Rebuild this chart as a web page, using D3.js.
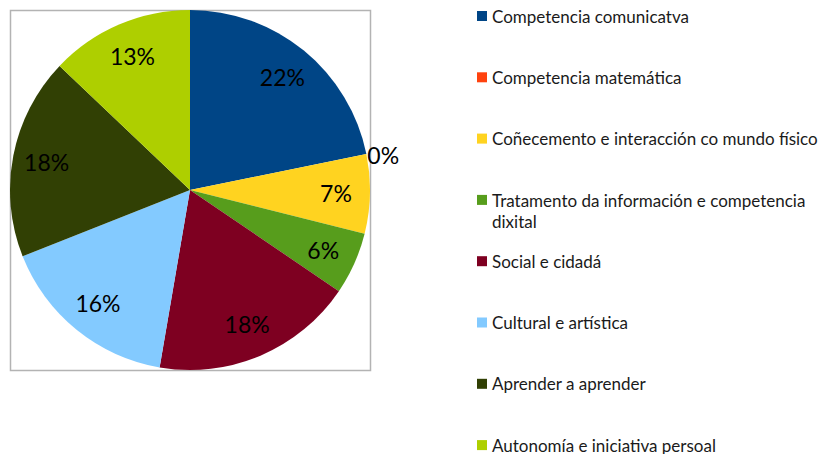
<!DOCTYPE html>
<html>
<head>
<meta charset="utf-8">
<script src="https://cdn.jsdelivr.net/npm/d3@7"></script>
<style>
  body { margin: 0; background: #fff; }
  svg { font-family: Lato, "Open Sans", sans-serif; }
</style>
</head>
<body>
<svg width="825" height="454"></svg>
<script>
// Competence shares (percent of total)
const categories = [
  "Competencia comunicatva",
  "Competencia matemática",
  "Coñecemento e interacción co mundo físico",
  "Tratamento da información e competencia dixital",
  "Social e cidadá",
  "Cultural e artística",
  "Aprender a aprender",
  "Autonomía e iniciativa persoal"
];
const values = [21.8, 0, 7.1, 5.6, 18.2, 16.3, 18.1, 12.9];
const colors = ["#004586", "#ff420e", "#ffd320", "#579d1c", "#7e0021", "#83caff", "#314004", "#aecf00"];

const svg = d3.select("svg");
const cx = 190, cy = 190, radius = 180;

// Plot area frame
svg.append("rect")
  .attr("x", 10.5)
  .attr("y", 10.5)
  .attr("width", 360)
  .attr("height", 360)
  .attr("fill", "none")
  .attr("stroke", "#b3b3b3")
  .attr("stroke-width", 1.5);

const data = categories.map((c, i) => ({ name: c, value: values[i], color: colors[i] }));
const total = d3.sum(values);

const pie = d3.pie().sort(null).value((d) => d.value);
const arcs = pie(data);
const arc = d3.arc().innerRadius(0).outerRadius(radius);
const labelArc = d3.arc().innerRadius(146).outerRadius(146);

const g = svg.append("g").attr("transform", `translate(${cx},${cy})`);

g.selectAll("path")
  .data(arcs)
  .enter()
  .append("path")
  .attr("d", arc)
  .attr("fill", (d) => d.data.color);

// Percent labels (zero slice goes outside)
g.selectAll("text.pct")
  .data(arcs)
  .enter()
  .append("text")
  .attr("class", "pct")
  .attr("transform", (d) => {
    if (d.data.value === 0) {
      const a = d.startAngle;
      return `translate(${(radius + 1) * Math.sin(a)},${-(radius + 1) * Math.cos(a) + 1})`;
    }
    return `translate(${labelArc.centroid(d)})`;
  })
  .attr("text-anchor", (d) => (d.data.value === 0 ? "start" : "middle"))
  .attr("dominant-baseline", "central")
  .attr("font-size", 23)
  .attr("fill", "#000")
  .text((d) => Math.round((d.data.value / total) * 100) + "%");

// Legend
const legend = svg.append("g").attr("transform", "translate(477,16)");
const rowGap = 61.3;

const items = legend.selectAll("g.item")
  .data(data)
  .enter()
  .append("g")
  .attr("class", "item")
  .attr("transform", (d, i) => `translate(0,${i * rowGap})`);

items.append("rect")
  .attr("x", 0)
  .attr("y", -5)
  .attr("width", 10)
  .attr("height", 10)
  .attr("fill", (d) => d.color);

items.append("text")
  .attr("x", 15)
  .attr("y", 0)
  .attr("dominant-baseline", "central")
  .attr("font-size", 17)
  .attr("fill", "#1a1a1a")
  .each(function (d) {
    const t = d3.select(this);
    if (d.name.startsWith("Tratamento")) {
      t.append("tspan").attr("x", 15).attr("dy", 0).text("Tratamento da información e competencia");
      t.append("tspan").attr("x", 15).attr("dy", 21).text("dixital");
    } else {
      t.text(d.name);
    }
  });
</script>
</body>
</html>
